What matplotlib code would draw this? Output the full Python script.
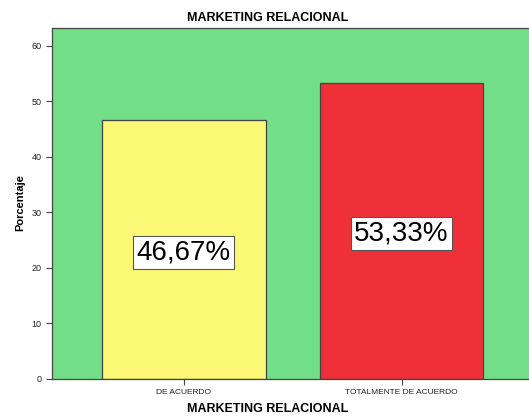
import matplotlib
matplotlib.use("Agg")
import matplotlib.pyplot as plt

categories = ["DE ACUERDO", "TOTALMENTE DE ACUERDO"]
values = [46.67, 53.33]
labels = ["46,67%", "53,33%"]
colors = ["#FAF874", "#EF3039"]
yticks = [0, 10, 20, 30, 40, 50, 60]

plt.rcParams['font.family'] = ['Liberation Sans', 'DejaVu Sans']

W, H = 529, 416
fig = plt.figure(figsize=(W/100, H/100), dpi=100)
fig.patch.set_facecolor("white")
ax = fig.add_axes([52/W, (H-379)/H, 1 - 52/W + 0.01, (379-28)/H])
ax.set_facecolor("#72DE87")

x = list(range(len(categories)))
ax.bar(x, values, width=0.75, color=colors, edgecolor="#444444", linewidth=0.9, zorder=2)
ax.set_xlim(-0.606, 1.61)
ax.set_ylim(0, 63.2)
ax.set_yticks(yticks)
ax.set_xticks(x)
ax.set_xticklabels(categories, fontsize=6)
ax.tick_params(axis='y', labelsize=6.5, length=4, width=0.8, color="#444444", labelcolor="#222222")
ax.tick_params(axis='x', length=4, width=0.8, color="#444444", labelcolor="#222222")

for xi, v, lab in zip(x, values, labels):
    ax.text(xi, v/2 - 0.5, lab, ha='center', va='center', fontsize=20, color='black', zorder=3,
            bbox=dict(boxstyle='square,pad=0.12', facecolor='white', edgecolor='#555555', linewidth=0.8))

for s in ['left', 'bottom', 'top']:
    ax.spines[s].set_color("#444444")
    ax.spines[s].set_linewidth(0.9)
ax.spines['right'].set_visible(False)

fig.text(268/W, 1 - 18/H, "MARKETING RELACIONAL", ha='center', va='center', fontsize=9, fontweight='bold')
fig.text(268/W, 1 - 409/H, "MARKETING RELACIONAL", ha='center', va='center', fontsize=9, fontweight='bold')
fig.text(20/W, 1 - 203/H, "Porcentaje", ha='center', va='center', rotation=90, fontsize=8, fontweight='bold')

fig.savefig("out.png", dpi=100)
